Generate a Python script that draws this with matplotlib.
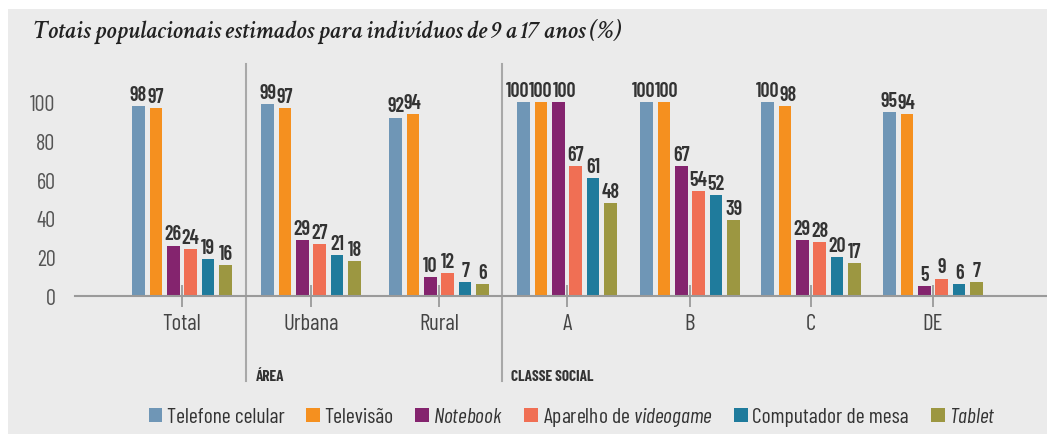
import numpy as np
import matplotlib
matplotlib.use("Agg")
import matplotlib.pyplot as plt
from matplotlib.patches import Rectangle, Patch

# data
groups = ["Total", "Urbana", "Rural", "A", "B", "C", "DE"]
series = ["Telefone celular", "Televisão", r"$\it{Notebook}$",
          r"Aparelho de $\it{videogame}$", "Computador de mesa", r"$\it{Tablet}$"]
telefone = [98, 99, 92, 100, 100, 100, 95]
televisao = [97, 97, 94, 100, 100, 98, 94]
notebook = [26, 29, 10, 100, 67, 29, 5]
videogame = [24, 27, 12, 67, 54, 28, 9]
computador = [19, 21, 7, 61, 52, 20, 6]
tablet = [16, 18, 6, 48, 39, 17, 7]
values = [telefone, televisao, notebook, videogame, computador, tablet]
colors = ["#6f96b6", "#f5901f", "#84246e", "#f06f54", "#1f7b9c", "#9c9741"]

# layout (pixel-like x units)
group_x = np.array([182, 311, 439, 567, 690, 811, 933])
sep_x = [246, 502]
bar_w = 12.5
pitch = 17.4

cond = "Barlow Condensed"
plt.rcParams["font.family"] = [cond, "DejaVu Sans"]
plt.rcParams["mathtext.fontset"] = "custom"
plt.rcParams["mathtext.it"] = cond + ":italic"
plt.rcParams["mathtext.rm"] = cond

W, H = 1047, 435
DPI = 100
fig = plt.figure(figsize=(W / DPI, H / DPI), dpi=DPI, facecolor="white")
bg = "#ebebeb"
fig.patches.append(Rectangle((8 / W, 0), 1 - 8 / W, 1 - 10 / H, transform=fig.transFigure,
                             facecolor=bg, edgecolor="none", zorder=-10))

fig.text(33 / W, 1 - 31 / H, "Totais populacionais estimados para indivíduos de 9 a 17 anos (%)",
         family=["Crimson Text", "Liberation Serif", "DejaVu Serif"], style="italic",
         fontweight="semibold", fontsize=18.4, color="#222222", va="center", ha="left")

ax_bottom = (H - 297) / H
ax_top = (H - 65) / H
ax = fig.add_axes([75 / W, ax_bottom, 1 - 75 / W, ax_top - ax_bottom])
ax.set_facecolor("none")
ymax = 100 + (103 - 65) / 1.94
ax.set_ylim(0, ymax)
ax.set_xlim(75, 1047)

labels = []
for k, (vals, col) in enumerate(zip(values, colors)):
    xs = group_x + (k - 2.5) * pitch
    ax.bar(xs, vals, width=bar_w, color=col, zorder=2)
    row = []
    for x, v in zip(xs, vals):
        a = ax.annotate(str(v), (x, v), xytext=(0, 1.5), textcoords="offset points",
                        ha="center", va="bottom", fontsize=14.5, fontweight="semibold",
                        color="#333333")
        row.append(a)
    labels.append(row)

for s in ["top", "right", "left"]:
    ax.spines[s].set_visible(False)
ax.spines["bottom"].set_color("#9a9a9a")
ax.spines["bottom"].set_linewidth(1.5)

ax.set_yticks(range(0, 101, 20))
ax.tick_params(axis="y", length=0, pad=14, labelsize=16, labelcolor="#555555")
ax.set_xticks(group_x)
ax.set_xticklabels(groups)
ax.tick_params(axis="x", direction="inout", length=16, width=1.3, color="#9a9a9a",
               labelsize=16.5, labelcolor="#444444", pad=4)

for sx in sep_x:
    ax.plot([sx, sx], [-0.366, 1.0], transform=ax.get_xaxis_transform(), color="#a8a8a8",
            lw=1.5, clip_on=False, zorder=1)

ax.text(256, -0.345, "ÁREA", transform=ax.get_xaxis_transform(), fontsize=11,
        fontweight="bold", color="#333333", va="center", ha="left")
ax.text(511, -0.345, "CLASSE SOCIAL", transform=ax.get_xaxis_transform(), fontsize=11,
        fontweight="bold", color="#333333", va="center", ha="left")

handles = [Patch(facecolor=c, edgecolor="none") for c in colors]
fig.legend(handles, series, loc="center", bbox_to_anchor=(572 / W, (H - 418) / H), ncol=6,
           frameon=False, fontsize=15.5, handlelength=0.65, handleheight=0.65,
           handletextpad=0.2, columnspacing=1.0, labelcolor="#333333")

# pack touching value labels side by side, like the original layout
fig.canvas.draw()
rend = fig.canvas.get_renderer()
for g in range(len(groups)):
    boxes = [labels[k][g].get_window_extent(rend) for k in range(len(values))]
    runs = [[0]]
    for k in range(1, len(values)):
        p, b = boxes[k - 1], boxes[k]
        hov = p.x1 - b.x0 > 1
        vov = min(p.y1, b.y1) - max(p.y0, b.y0) > 3
        if hov and vov:
            runs[-1].append(k)
        else:
            runs.append([k])
    for run in runs:
        if len(run) < 2:
            continue
        widths = [boxes[k].width for k in run]
        centre = np.mean([(boxes[k].x0 + boxes[k].x1) / 2 for k in run])
        left = centre - sum(widths) / 2
        for k, w in zip(run, widths):
            new_c = left + w / 2
            old_c = (boxes[k].x0 + boxes[k].x1) / 2
            labels[k][g].xyann = ((new_c - old_c) * 72 / DPI, 1.5)
            left += w

fig.savefig("out.png", dpi=DPI, facecolor=fig.get_facecolor())
